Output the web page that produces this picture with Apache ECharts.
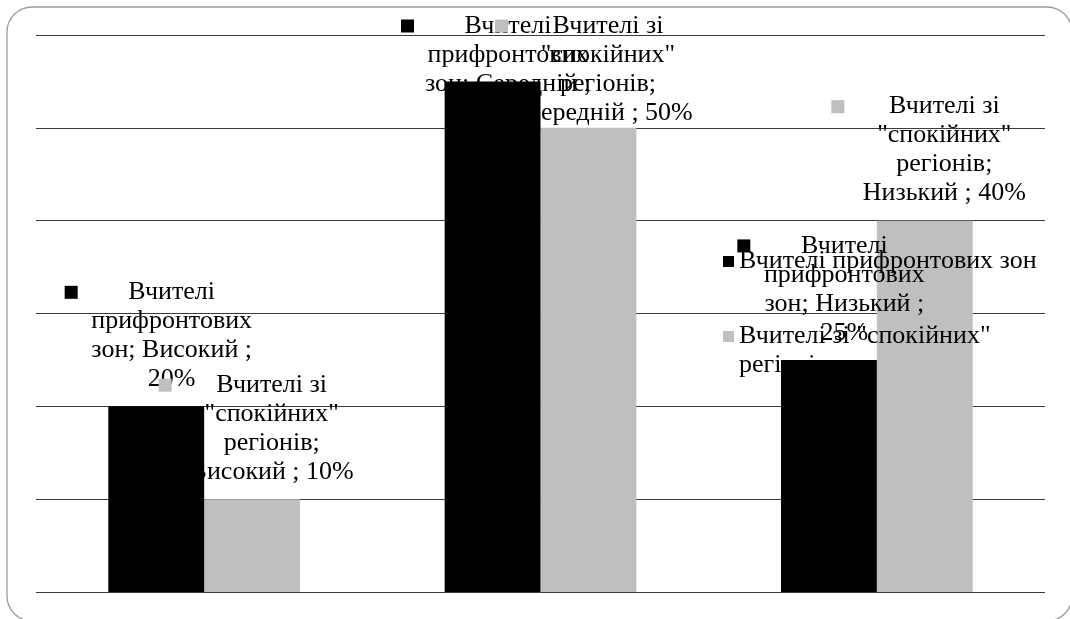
<!DOCTYPE html>
<html>
<head>
<meta charset="utf-8">
<script src="https://cdn.jsdelivr.net/npm/echarts@6/dist/echarts.min.js"></script>
<style>
  html, body { margin: 0; padding: 0; background: #ffffff; }
  #chart { width: 1070px; height: 619px; }
</style>
</head>
<body>
<div id="chart"></div>
<script>
// Рівні та частки вчителів (у відсотках)
const categories = ['Високий', 'Середній', 'Низький'];
const seriesNames = ['Вчителі прифронтових зон', 'Вчителі зі "спокійних" регіонів'];
const frontlineValues = [20, 55, 25];
const calmValues = [10, 50, 40];

const FONT = '"Liberation Serif", "Times New Roman", serif';
const FS = 26;
const LH = 29;
const BLACK = '#000000';
const GREY = '#bfbfbf';
const GRID_COLOR = '#3a3a3a';

// word wrapping of label text, measured with the label font
const measureCtx = document.createElement('canvas').getContext('2d');
measureCtx.font = FS + 'px ' + FONT;
function wrapWords(text, maxW) {
  const words = text.split(' ');
  const lines = [];
  let cur = '';
  words.forEach(function (w) {
    const t = cur ? cur + ' ' + w : w;
    if (cur && measureCtx.measureText(t).width > maxW) { lines.push(cur); cur = w; }
    else { cur = t; }
  });
  if (cur) lines.push(cur);
  return lines;
}

// "Серія; Категорія ; Значення" with a legend key in front
function labelText(seriesName, category, value) {
  const lines = wrapWords(seriesName + '; ' + category + ' ; ' + value + '%', FS * 7.2);
  let s = '{m| }' + lines[0] + '{p| }';
  if (lines.length > 1) s += '\n' + lines.slice(1).join('\n');
  return s;
}

const TOP_LIMIT = 11.5;

function labelSeries(idx, values, color, dx, width, z) {
  return {
    name: 'labels-' + idx,
    type: 'scatter',
    data: values,
    symbolSize: 1,
    itemStyle: { color: 'rgba(0,0,0,0)', opacity: 1 },
    silent: true,
    z: z,
    label: {
      show: true,
      position: [dx, -128],
      align: 'center',
      verticalAlign: 'top',
      width: width,
      fontFamily: FONT,
      fontSize: FS,
      lineHeight: LH,
      color: '#000000',
      opacity: 1,
      textBorderWidth: 0,
      formatter: function (p) {
        return labelText(seriesNames[idx], categories[p.dataIndex], p.value);
      },
      rich: {
        m: { width: 13, height: 13, backgroundColor: color, align: 'left', lineHeight: LH },
        p: { width: 13, height: 13, align: 'right', lineHeight: LH }
      }
    },
    // labels that would leave the plot are pushed back below the top edge
    labelLayout: function (params) {
      const r = params.labelRect;
      if (r.y >= TOP_LIMIT) return {};
      return { x: r.x + r.width / 2, y: TOP_LIMIT, align: 'center', verticalAlign: 'top' };
    }
  };
}

function legendBlock(name, top) {
  return {
    data: [{ name: name, icon: 'rect' }],
    orient: 'vertical',
    left: 723,
    top: top,
    padding: 0,
    itemWidth: 11,
    itemHeight: 11,
    selectedMode: false,
    z: 2,
    textStyle: { fontFamily: FONT, fontSize: FS, lineHeight: LH, color: '#000' },
    formatter: function (n) {
      const w = wrapWords(n, FS * 12.2);
      return w.length > 1 ? '\n' + w.join('\n') : n;
    }
  };
}

const chart = echarts.init(document.getElementById('chart'), null, { renderer: 'canvas' });

chart.setOption({
  animation: false,
  backgroundColor: '#ffffff',
  grid: { left: 36, right: 25, top: 35, bottom: 27, containLabel: false },
  legend: [
    legendBlock(seriesNames[0], 247),
    legendBlock(seriesNames[1], 293)
  ],
  xAxis: {
    type: 'category',
    data: categories,
    axisLine: { show: false },
    axisTick: { show: false },
    axisLabel: { show: false },
    splitLine: { show: false }
  },
  yAxis: {
    type: 'value',
    min: 0,
    max: 60,
    interval: 10,
    axisLine: { show: false },
    axisTick: { show: false },
    axisLabel: { show: false },
    splitLine: { show: true, lineStyle: { color: GRID_COLOR, width: 1 } }
  },
  series: [
    {
      name: seriesNames[0],
      type: 'bar',
      data: frontlineValues,
      barGap: '0%',
      barCategoryGap: '43%',
      itemStyle: { color: BLACK },
      z: 5
    },
    {
      name: seriesNames[1],
      type: 'bar',
      data: calmValues,
      barGap: '0%',
      barCategoryGap: '43%',
      itemStyle: { color: GREY },
      z: 1
    },
    labelSeries(0, frontlineValues, BLACK, -32, 214, 3),
    labelSeries(1, calmValues, GREY, 68, 226, 4)
  ],
  graphic: [{
    type: 'rect',
    silent: true,
    z: 0,
    shape: { x: 7, y: 7, width: 1065, height: 614, r: 25 },
    style: { fill: 'none', stroke: '#9c9c9c', lineWidth: 1.3 }
  }]
});
</script>
</body>
</html>
